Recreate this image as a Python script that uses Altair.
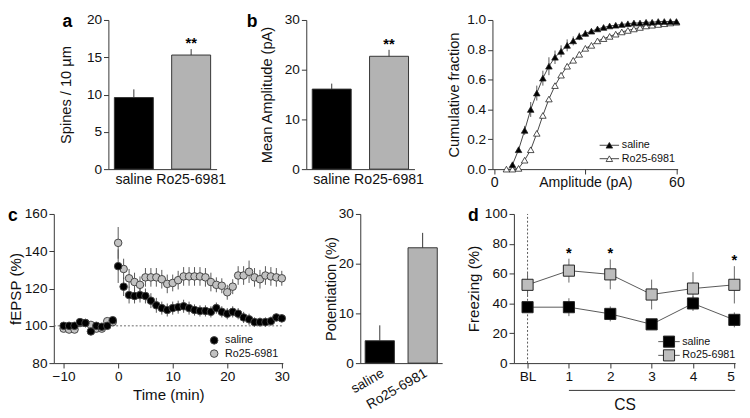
import altair as alt
import pandas as pd

FONT = "Liberation Sans"
GROUPS = ["saline", "Ro25-6981"]
BAR_COLORS = ["#000000", "#b3b3b3"]

# ---- panel a : spine density
spines_mean = [9.6, 15.3]
spines_sem = [1.1, 0.8]
spines_sig = ["", "**"]

# ---- panel b : mEPSC mean amplitude
amp_mean = [16.1, 22.7]
amp_sem = [1.1, 1.3]
amp_sig = ["", "**"]

# ---- panel b right : cumulative fraction
cum_amp_saline = list(range(6, 61, 2))
cum_frac_saline = [0.03, 0.13, 0.26, 0.40, 0.51, 0.61, 0.69, 0.75, 0.79, 0.83,
                   0.86, 0.89, 0.91, 0.925, 0.94, 0.95, 0.96, 0.965, 0.97, 0.975,
                   0.98, 0.98, 0.985, 0.985, 0.99, 0.99, 0.99, 0.99]
cum_sem_saline = [0.01, 0.02, 0.03, 0.05, 0.05, 0.05, 0.06, 0.045, 0.04, 0.04,
                  0.03, 0.025, 0.02, 0.015, 0.015, 0.01, 0.01, 0.01, 0.01, 0.01,
                  0.01, 0.01, 0.01, 0.01, 0.01, 0.01, 0.01, 0.01]
cum_amp_ro = list(range(4, 61, 2))
cum_frac_ro = [0.0, 0.0, 0.005, 0.06, 0.13, 0.24, 0.36, 0.47, 0.56, 0.63,
               0.69, 0.73, 0.77, 0.81, 0.83, 0.86, 0.875, 0.89, 0.905, 0.92,
               0.93, 0.94, 0.95, 0.96, 0.965, 0.97, 0.975, 0.98, 0.985]

# ---- panel c : fEPSP time course
time_min = list(range(-10, 31))
fepsp_saline = [100, 100, 100, 102, 101.5, 97, 100, 99.5, 100, 103,
                132, 121, 116.5, 116, 116.5, 116, 113.5, 111, 109.5, 108.5,
                109.5, 110, 110.5, 109.5, 108.5, 108, 108, 107.5, 109.5, 107.5,
                106.5, 107.5, 106.5, 104.5, 103.5, 102, 102, 102, 102.5, 104.5, 104]
fepsp_saline_sem = [1, 1, 1, 1, 1, 1, 1, 1, 1, 1,
                    9, 5, 4.5, 4, 4, 4, 4, 4, 3.5, 3.5,
                    3.5, 3.5, 3.5, 3.5, 3, 3, 3, 3, 3, 3,
                    3, 3, 3, 3, 3, 2.5, 2.5, 2.5, 2.5, 2, 2]
fepsp_ro = [98.5, 98, 98, 101.5, 101.5, 100.5, 98.5, 98.5, 102.5, 102,
            144.5, 130.5, 125.5, 123.5, 122, 126, 126, 126, 125, 122.5,
            123, 124.5, 126.5, 126.5, 126.5, 126.5, 126, 123.5, 122, 121.5,
            118, 121, 127, 127, 129, 126, 125, 127, 126.5, 126, 125.5]
fepsp_ro_sem = [1.5, 1.5, 1.5, 1.5, 1.5, 1.5, 1.5, 1.5, 1.5, 1.5,
                8.5, 5.5, 5, 5, 4.5, 5, 5, 5, 5, 5,
                4.5, 5, 5, 5, 5, 5, 5, 5, 4, 4,
                4, 4, 5, 5, 6, 5, 5, 5, 5, 5, 4]

# ---- panel c right : potentiation
pot_mean = [4.5, 23.2]
pot_sem = [3.1, 3.0]

# ---- panel d : freezing
cs_labels = ["BL", "1", "2", "3", "4", "5"]
cs_pos = [0, 1, 2, 3, 4, 5]
freeze_saline = [37.5, 37.5, 33.0, 26.0, 40.0, 29.0]
freeze_saline_sem = [0.5, 6.0, 5.0, 0.5, 5.0, 5.0]
freeze_ro = [52.5, 62.0, 59.5, 46.0, 50.0, 52.5]
freeze_ro_sem = [8.0, 8.0, 10.0, 10.0, 11.0, 12.5]
freeze_sig = ["", "*", "*", "", "", "*"]

AXC = "#333333"
PLOT_H = 153


def letter(ch, x_px, y_px):
    return alt.Chart(pd.DataFrame({"t": [ch]})).mark_text(
        align="left", baseline="alphabetic", fontSize=18, fontWeight="bold", color="black"
    ).encode(text="t:N", x=alt.value(x_px), y=alt.value(y_px))


def left_margin(x_px):
    # blank white text that only widens the panel's left margin in the layout
    return alt.Chart(pd.DataFrame({"t": ["."]})).mark_text(
        align="left", baseline="middle", fontSize=10, color="white"
    ).encode(text="t:N", x=alt.value(x_px), y=alt.value(PLOT_H / 2))


def bar_panel(means, sems, sig, ymax, ystep, ytitle, width, pad_inner, pad_outer,
              title_pad, rotate=False, extra=None):
    df = pd.DataFrame({"group": GROUPS, "mean": means,
                       "top": [m + s for m, s in zip(means, sems)], "sig": sig})
    sx = alt.Scale(domain=GROUPS, paddingInner=pad_inner, paddingOuter=pad_outer)
    ax = alt.Axis(title=None, ticks=False, labelAngle=330 if rotate else 0,
                  labelFontSize=14 if rotate else 14.5, labelPadding=3 if rotate else 4)
    x = alt.X("group:N", scale=sx, axis=ax)
    sy = alt.Scale(domain=[0, ymax], nice=False)
    ay = alt.Axis(title=ytitle, values=list(range(0, ymax + 1, ystep)), titlePadding=title_pad)
    base = alt.Chart(df)
    bars = base.mark_bar(stroke=AXC, strokeWidth=1).encode(
        x=x, y=alt.Y("mean:Q", scale=sy, axis=ay),
        color=alt.Color("group:N", scale=alt.Scale(domain=GROUPS, range=BAR_COLORS), legend=None))
    err = base.mark_rule(color=AXC, strokeWidth=1).encode(
        x=x, y=alt.Y("mean:Q", scale=sy, axis=ay), y2="top:Q")
    stars = base.mark_text(fontSize=15, fontWeight="bold", baseline="bottom", dy=2).encode(
        x=x, y=alt.Y("top:Q", scale=sy, axis=ay), text="sig:N")
    layers = [bars, err, stars] + (extra or [])
    return alt.layer(*layers).properties(width=width, height=PLOT_H)


# ---------------- panels a and b
panel_a = bar_panel(spines_mean, spines_sem, spines_sig, 20, 5, "Spines / 10 µm",
                    111, 0.32, 0.104, 13, extra=[letter("a", -47, 7), left_margin(-48)])
panel_b = bar_panel(amp_mean, amp_sem, amp_sig, 30, 10, "Mean Amplitude (pA)",
                    111, 0.32, 0.104, 10, extra=[letter("b", -61, 7)])

# ---------------- cumulative fraction
cum_df = pd.concat([
    pd.DataFrame({"group": "saline", "amp": cum_amp_saline, "frac": cum_frac_saline,
                  "lo": [f - s for f, s in zip(cum_frac_saline, cum_sem_saline)],
                  "hi": [f + s for f, s in zip(cum_frac_saline, cum_sem_saline)]}),
    pd.DataFrame({"group": "Ro25-6981", "amp": cum_amp_ro, "frac": cum_frac_ro,
                  "lo": cum_frac_ro, "hi": cum_frac_ro}),
])
cum_xs = alt.Scale(domain=[-0.6, 60.4], nice=False)
cum_ys = alt.Scale(domain=[0, 1], nice=False)
cum_xa = alt.Axis(title=None, values=[0, 30, 60], labelFontSize=14.5,
                  labelExpr="datum.value == 30 ? 'Amplitude (pA)' : datum.label")
cum_ya = alt.Axis(title="Cumulative fraction", values=[0, 0.2, 0.4, 0.6, 0.8, 1.0],
                  format=".1f", titlePadding=5)
cx = alt.X("amp:Q", scale=cum_xs, axis=cum_xa)
cy = alt.Y("frac:Q", scale=cum_ys, axis=cum_ya)
cum_base = alt.Chart(cum_df)
cum_lines = cum_base.mark_line(color="#444", strokeWidth=1).encode(x=cx, y=cy, detail="group:N")
cum_err = cum_base.transform_filter("datum.group == 'saline'").mark_rule(
    color="#555", strokeWidth=1).encode(x=cx, y=alt.Y("lo:Q", scale=cum_ys, axis=cum_ya), y2="hi:Q")
cum_ro = cum_base.transform_filter("datum.group == 'Ro25-6981'").mark_point(
    shape="triangle-up", filled=True, fill="white", stroke="#222", strokeWidth=0.8,
    size=45, opacity=1).encode(x=cx, y=cy)
cum_sal = cum_base.transform_filter("datum.group == 'saline'").mark_point(
    shape="triangle-up", filled=True, fill="black", stroke="#222", strokeWidth=0.8,
    size=45, opacity=1).encode(x=cx, y=cy)
# legend keys (axis units)
cum_leg = pd.DataFrame({"group": GROUPS, "x": [37.9, 37.9], "x0": [34.7, 34.7],
                        "x1": [41.1, 41.1], "y": [0.16, 0.07], "tx": [42.0, 42.0]})
leg_base = alt.Chart(cum_leg)
cum_leg_line = leg_base.mark_rule(color="#444", strokeWidth=1).encode(
    x=alt.X("x0:Q", scale=cum_xs, axis=cum_xa), x2="x1:Q", y=alt.Y("y:Q", scale=cum_ys, axis=cum_ya))
cum_leg_ro = leg_base.transform_filter("datum.group == 'Ro25-6981'").mark_point(
    shape="triangle-up", filled=True, fill="white", stroke="#222", strokeWidth=0.8,
    size=45, opacity=1).encode(x=alt.X("x:Q", scale=cum_xs, axis=cum_xa), y=alt.Y("y:Q", scale=cum_ys, axis=cum_ya))
cum_leg_sal = leg_base.transform_filter("datum.group == 'saline'").mark_point(
    shape="triangle-up", filled=True, fill="black", stroke="#222", strokeWidth=0.8,
    size=45, opacity=1).encode(x=alt.X("x:Q", scale=cum_xs, axis=cum_xa), y=alt.Y("y:Q", scale=cum_ys, axis=cum_ya))
cum_leg_txt = leg_base.mark_text(align="left", baseline="middle", fontSize=11, color="#111").encode(
    x=alt.X("tx:Q", scale=cum_xs, axis=cum_xa), y=alt.Y("y:Q", scale=cum_ys, axis=cum_ya), text="group:N")
panel_cum = alt.layer(cum_lines, cum_err, cum_ro, cum_sal, cum_leg_line, cum_leg_ro,
                      cum_leg_sal, cum_leg_txt, left_margin(-48.5)).properties(width=190, height=PLOT_H)

# ---------------- panel c fEPSP
c_df = pd.concat([
    pd.DataFrame({"group": "Ro25-6981", "t": time_min, "v": fepsp_ro,
                  "lo": [v - s for v, s in zip(fepsp_ro, fepsp_ro_sem)],
                  "hi": [v + s for v, s in zip(fepsp_ro, fepsp_ro_sem)]}),
    pd.DataFrame({"group": "saline", "t": time_min, "v": fepsp_saline,
                  "lo": [v - s for v, s in zip(fepsp_saline, fepsp_saline_sem)],
                  "hi": [v + s for v, s in zip(fepsp_saline, fepsp_saline_sem)]}),
])
c_xs = alt.Scale(domain=[-11.8, 30.2], nice=False)
c_ys = alt.Scale(domain=[80, 160], nice=False)
c_xa = alt.Axis(title="Time (min)", values=[-10, 0, 10, 20, 30], titleFontSize=15.5, titlePadding=4)
c_ya = alt.Axis(title="fEPSP (%)", values=[80, 100, 120, 140, 160], titleFontSize=15.5, titlePadding=0.5)
c_x = alt.X("t:Q", scale=c_xs, axis=c_xa)
c_y = alt.Y("v:Q", scale=c_ys, axis=c_ya)
base_line = pd.DataFrame({"t0": [-11.8], "t1": [30.0], "y": [100]})
c_dash = alt.Chart(base_line).mark_rule(color="#666", strokeDash=[2, 2], strokeWidth=1).encode(
    x=alt.X("t0:Q", scale=c_xs, axis=c_xa), x2="t1:Q", y=alt.Y("y:Q", scale=c_ys, axis=c_ya))
c_base = alt.Chart(c_df)
c_err = c_base.mark_rule(color="#555", strokeWidth=1).encode(
    x=c_x, y=alt.Y("lo:Q", scale=c_ys, axis=c_ya), y2="hi:Q")
c_ro = c_base.transform_filter("datum.group == 'Ro25-6981'").mark_point(
    shape="circle", filled=True, fill="#c2c2c2", size=60, stroke="#444", strokeWidth=1,
    opacity=1).encode(x=c_x, y=c_y)
c_sal = c_base.transform_filter("datum.group == 'saline'").mark_point(
    shape="circle", filled=True, fill="#000000", size=60, stroke="#444", strokeWidth=1,
    opacity=1).encode(x=c_x, y=c_y)
c_leg = pd.DataFrame({"group": GROUPS, "t": [17.6, 17.6], "v": [92.2, 85.1], "tx": [19.6, 19.6]})
c_leg_base = alt.Chart(c_leg)
c_leg_sal = c_leg_base.transform_filter("datum.group == 'saline'").mark_point(
    shape="circle", filled=True, fill="#000000", size=60, stroke="#444", strokeWidth=1,
    opacity=1).encode(x=c_x, y=c_y)
c_leg_ro = c_leg_base.transform_filter("datum.group == 'Ro25-6981'").mark_point(
    shape="circle", filled=True, fill="#c2c2c2", size=60, stroke="#444", strokeWidth=1,
    opacity=1).encode(x=c_x, y=c_y)
c_leg_txt = c_leg_base.mark_text(align="left", baseline="middle", fontSize=11, color="#111").encode(
    x=alt.X("tx:Q", scale=c_xs, axis=c_xa), y=c_y, text="group:N")
panel_c = alt.layer(c_dash, c_err, c_ro, c_sal, c_leg_sal, c_leg_ro, c_leg_txt,
                    letter("c", -47, 7)).properties(width=235, height=PLOT_H)

# ---------------- potentiation
panel_pot = bar_panel(pot_mean, pot_sem, ["", ""], 30, 10, "Potentiation (%)",
                      84, 0.318, 0.114, 0, rotate=True)

# ---------------- panel d freezing
d_df = pd.concat([
    pd.DataFrame({"group": "saline", "pos": cs_pos, "v": freeze_saline,
                  "lo": [v - s for v, s in zip(freeze_saline, freeze_saline_sem)],
                  "hi": [v + s for v, s in zip(freeze_saline, freeze_saline_sem)],
                  "sig": [""] * 6}),
    pd.DataFrame({"group": "Ro25-6981", "pos": cs_pos, "v": freeze_ro,
                  "lo": [v - s for v, s in zip(freeze_ro, freeze_ro_sem)],
                  "hi": [v + s for v, s in zip(freeze_ro, freeze_ro_sem)],
                  "sig": freeze_sig}),
])
d_xs = alt.Scale(domain=[-0.33, 5.02], nice=False)
d_ys = alt.Scale(domain=[0, 100], nice=False)
d_xa = alt.Axis(title="CS", values=cs_pos, labelExpr="datum.value == 0 ? 'BL' : datum.label",
                titleFontSize=16, titlePadding=14)
d_ya = alt.Axis(title="Freezing (%)", values=[0, 20, 40, 60, 80, 100],
                titleFontSize=15.5, titlePadding=3)
d_x = alt.X("pos:Q", scale=d_xs, axis=d_xa)
d_y = alt.Y("v:Q", scale=d_ys, axis=d_ya)
bl_df = pd.DataFrame({"x": [0], "y0": [0], "y1": [100]})
d_bl = alt.Chart(bl_df).mark_rule(color="#555", strokeDash=[2, 2], strokeWidth=1).encode(
    x=alt.X("x:Q", scale=d_xs, axis=d_xa), y=alt.Y("y0:Q", scale=d_ys, axis=d_ya), y2="y1:Q")
cs_df = pd.DataFrame({"x0": [1], "x1": [5.02], "y": [-18.3]})
d_cs = alt.Chart(cs_df).mark_rule(color="#333", strokeWidth=1).encode(
    x=alt.X("x0:Q", scale=d_xs, axis=d_xa), x2="x1:Q", y=alt.Y("y:Q", scale=d_ys, axis=d_ya))
d_base = alt.Chart(d_df)
d_lines = d_base.mark_line(color="#555", strokeWidth=1).encode(x=d_x, y=d_y, detail="group:N")
d_err = d_base.mark_rule(color="#666", strokeWidth=1).encode(
    x=d_x, y=alt.Y("lo:Q", scale=d_ys, axis=d_ya), y2="hi:Q")
d_sal = d_base.transform_filter("datum.group == 'saline'").mark_point(
    shape="square", filled=True, fill="#000000", size=130, stroke="#222", strokeWidth=1,
    opacity=1).encode(x=d_x, y=d_y)
d_ro = d_base.transform_filter("datum.group == 'Ro25-6981'").mark_point(
    shape="square", filled=True, fill="#bdbdbd", size=130, stroke="#222", strokeWidth=1,
    opacity=1).encode(x=d_x, y=d_y)
d_stars = d_base.mark_text(fontSize=15, fontWeight="bold", baseline="middle", dy=-6).encode(
    x=d_x, y=alt.Y("hi:Q", scale=d_ys, axis=d_ya), text="sig:N")
d_leg = pd.DataFrame({"group": GROUPS, "pos": [3.42, 3.42], "x0": [3.16, 3.16], "x1": [3.68, 3.68],
                      "v": [14.4, 5.2], "tx": [3.74, 3.74]})
d_leg_base = alt.Chart(d_leg)
d_leg_line = d_leg_base.mark_rule(color="#555", strokeWidth=1).encode(
    x=alt.X("x0:Q", scale=d_xs, axis=d_xa), x2="x1:Q", y=d_y)
d_leg_sal = d_leg_base.transform_filter("datum.group == 'saline'").mark_point(
    shape="square", filled=True, fill="#000000", size=130, stroke="#222", strokeWidth=1,
    opacity=1).encode(x=d_x, y=d_y)
d_leg_ro = d_leg_base.transform_filter("datum.group == 'Ro25-6981'").mark_point(
    shape="square", filled=True, fill="#bdbdbd", size=130, stroke="#222", strokeWidth=1,
    opacity=1).encode(x=d_x, y=d_y)
d_leg_txt = d_leg_base.mark_text(align="left", baseline="middle", fontSize=11, color="#111").encode(
    x=alt.X("tx:Q", scale=d_xs, axis=d_xa), y=d_y, text="group:N")
panel_d = alt.layer(d_bl, d_cs, d_lines, d_err, d_sal, d_ro, d_stars, d_leg_line, d_leg_sal,
                    d_leg_ro, d_leg_txt, letter("d", -47, 7)).properties(width=227, height=PLOT_H)

# ---------------- layout
# rows of a vconcat line up at their first cell's origin: a thin blank first cell
# in the top row shifts panel a right of panel c
spacer = alt.Chart(pd.DataFrame({"v": [0]})).mark_rect(opacity=0).encode(
    x=alt.value(0), x2=alt.value(5), y=alt.value(0), y2=alt.value(1)).properties(width=5, height=10)

top = alt.hconcat(spacer, alt.hconcat(panel_a, panel_b, panel_cum, spacing=21), spacing=0)
bottom = alt.hconcat(alt.hconcat(panel_c, panel_pot, spacing=34.4), panel_d, spacing=24)

chart = alt.vconcat(top, bottom, spacing=18).properties(padding=0).configure(
    font=FONT).configure_view(stroke=None).configure_axis(
    labelFontSize=14, titleFontSize=15,
    titleFontWeight="normal", labelColor="#111", titleColor="#111",
    domainColor=AXC, tickColor=AXC, grid=False, tickSize=5
)

chart.save("out.html", embed_options={"renderer": "svg", "actions": False})
